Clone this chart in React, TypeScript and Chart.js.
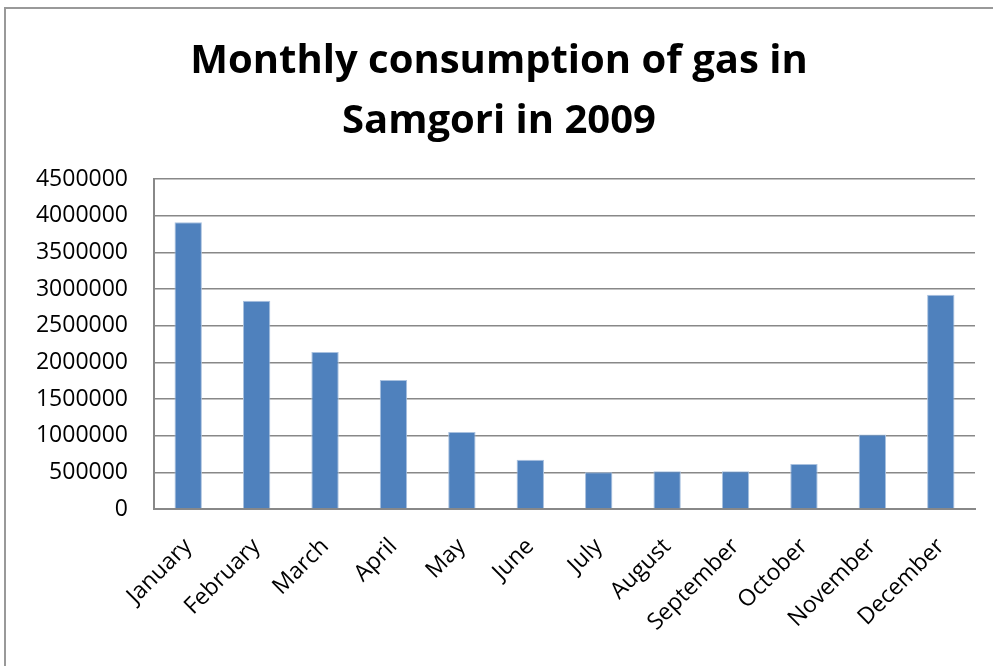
import React, { useEffect, useRef } from "react";
import { Chart, registerables } from "chart.js";

Chart.register(...registerables);

const months = [
  "January", "February", "March", "April", "May", "June",
  "July", "August", "September", "October", "November", "December",
];
const consumption = [
  3910000, 2840000, 2140000, 1760000, 1050000, 670000,
  500000, 515000, 515000, 615000, 1015000, 2920000,
];
const titleLines = ["Monthly consumption of gas in", "Samgori in 2009"];
const yMax = 4500000;
const yStep = 500000;

const FONT = "'Open Sans', 'Noto Sans', sans-serif";

const titlePlugin = {
  id: "excelTitle",
  afterDraw(chart: any) {
    const ctx = chart.ctx;
    ctx.save();
    ctx.fillStyle = "#000";
    ctx.font = `bold 40px ${FONT}`;
    ctx.textAlign = "center";
    ctx.textBaseline = "alphabetic";
    ctx.fillText(titleLines[0], 499, 73);
    ctx.fillText(titleLines[1], 499, 133);
    ctx.restore();
  },
};

export default function App() {
  const ref = useRef<HTMLCanvasElement>(null);
  useEffect(() => {
    if (!ref.current) return;
    const chart = new Chart(ref.current, {
      type: "bar",
      data: {
        labels: months,
        datasets: [
          {
            data: consumption,
            backgroundColor: "#4f81bd",
            borderColor: "#a9c1df",
            borderWidth: 1,
            barPercentage: 0.4,
            categoryPercentage: 1,
          },
        ],
      },
      plugins: [titlePlugin],
      options: {
        animation: false,
        responsive: false,
        maintainAspectRatio: false,
        layout: { padding: { top: 179, right: 18, bottom: 0, left: 0 } },
        plugins: { legend: { display: false }, tooltip: { enabled: false }, title: { display: false } },
        scales: {
          x: {
            grid: { display: false, drawTicks: false },
            border: { display: true, color: "#888", width: 2 },
            ticks: {
              color: "#000",
              font: { family: FONT, size: 23 },
              minRotation: 45,
              maxRotation: 45,
              padding: 24,
            },
            afterFit(scale: any) {
              scale.height = 157;
            },
          },
          y: {
            min: 0,
            max: yMax,
            grid: { color: "#888", lineWidth: 1.5, drawTicks: false },
            border: { display: true, color: "#888", width: 2 },
            ticks: {
              stepSize: yStep,
              color: "#000",
              font: { family: FONT, size: 23 },
              padding: 26,
              callback: (v: any) => String(v),
            },
            afterFit(scale: any) {
              scale.width = 154;
            },
          },
        },
      },
    });
    return () => chart.destroy();
  }, []);
  return (
    <div style={{ position: "fixed", left: 0, top: 0, width: 993, height: 666, background: "#fff", overflow: "hidden" }}>
      <div style={{ position: "absolute", left: 4, top: 7, width: 1200, height: 1000, border: "2px solid #999", boxSizing: "border-box" }} />
      <canvas ref={ref} width={993} height={666} style={{ position: "absolute", left: 0, top: 0 }} />
    </div>
  );
}
